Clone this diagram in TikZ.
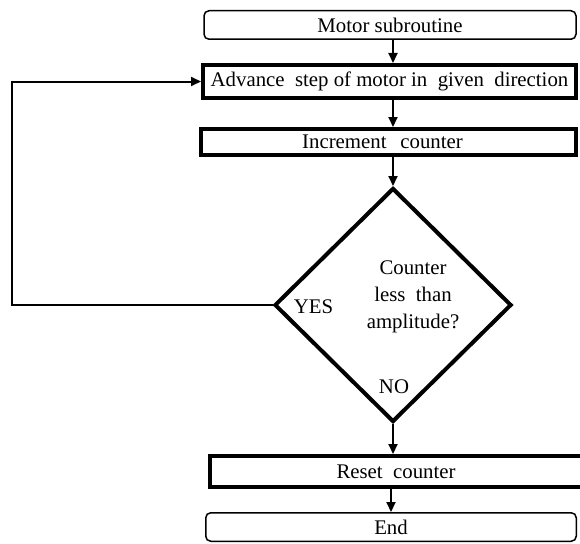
\documentclass[tikz,border=0pt]{standalone}
\usepackage{fontspec}
\setmainfont{Liberation Serif}
\usetikzlibrary{shapes.geometric,arrows.meta}
\begin{document}
\begin{tikzpicture}[x=1pt,y=-1pt,
  font=\fontsize{20.8}{27}\selectfont,
  termbox/.style={draw,line width=1.5pt,rounded corners=5pt,inner sep=0pt,
                  minimum width=372pt,minimum height=28.5pt},
  procbox/.style={draw,line width=4pt,inner sep=0pt},
  decision/.style={draw,shape=diamond,line width=4pt,inner sep=0pt,
                   minimum width=237pt,minimum height=234pt},
  flow/.style={line width=2pt,-{Triangle[length=10pt,width=9pt]}},
  lbl/.style={inner sep=0pt,anchor=base}]
\useasboundingbox (0,0) rectangle (580,543);

% boxes of the flow chart
\node[termbox] (motor) at (390,25) {Motor subroutine};
\node[procbox,minimum width=373pt,minimum height=33pt] (adv) at (389.5,81.5)
  {Advance\ \ step of motor in\ \ given\ \ direction};
\node[procbox,minimum width=375pt,minimum height=26pt,
      text width=375pt,align=center] (inc) at (388.5,142)
  {\hspace*{-12pt}Increment\ \ counter};
\node[decision] (dec) at (393,305) {};
\node[inner sep=0pt,align=center] (question) at (413,296.5)
  {Counter\\less\ \ than\\amplitude?};
\node[lbl] (yes) at (313.5,313) {YES};
\node[lbl] (no) at (394,393) {NO};
\node[procbox,minimum width=372pt,minimum height=31pt] (reset) at (396,471.5)
  {Reset\ \ counter};
\node[termbox,minimum width=370.5pt] (endbox) at (391,527) {End};
\coordinate (back) at (12,0);

% connectors
\draw[flow] (motor.south -| dec.north) -- (adv.north -| dec.north);
\draw[flow] (adv.south -| dec.north) -- (inc.north -| dec.north);
\draw[flow] (inc.south -| dec.north) -- (dec.north);
\draw[flow] (dec.south) -- (reset.north -| dec.south);
\draw[flow] (reset.south -| endbox.north) -- (endbox.north);
\draw[flow] (dec.west) -- (dec.west -| back) |- (adv.west);
\end{tikzpicture}
\end{document}
